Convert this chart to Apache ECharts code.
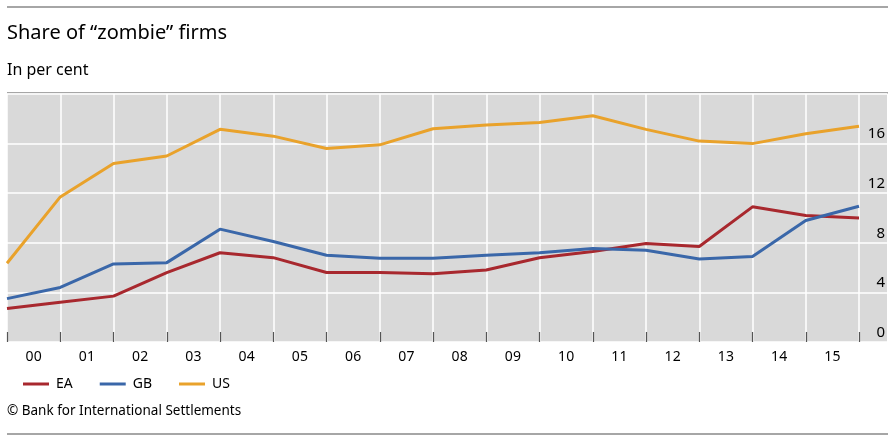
<!DOCTYPE html>
<html>
<head>
<meta charset="utf-8">
<script src="https://cdn.jsdelivr.net/npm/echarts@6/dist/echarts.min.js"></script>
<style>html,body{margin:0;padding:0;background:#fff;}#c{width:895px;height:442px;}</style>
</head>
<body>
<div id="c"></div>
<script>
const years = ['00','01','02','03','04','05','06','07','08','09','10','11','12','13','14','15'];
const EA = [2.7, 3.2, 3.7, 5.6, 7.2, 6.8, 5.6, 5.6, 5.5, 5.8, 6.8, 7.3, 7.95, 7.7, 10.9, 10.2, 10.0];
const GB = [3.5, 4.4, 6.3, 6.4, 9.1, 8.1, 7.0, 6.75, 6.75, 7.0, 7.2, 7.55, 7.4, 6.7, 6.9, 9.8, 10.95];
const US = [6.35, 11.7, 14.4, 15.0, 17.15, 16.6, 15.6, 15.9, 17.2, 17.5, 17.7, 18.25, 17.15, 16.2, 16.0, 16.8, 17.4];
const yTicks = [0, 4, 8, 12, 16];

const FONT = '"Noto Sans", "Open Sans", sans-serif';
const chart = echarts.init(document.getElementById('c'));
const toPts = a => a.map((v, i) => [i, v]);

chart.setOption({
  animation: false,
  textStyle: { fontFamily: FONT },
  grid: [
    { left: 7, right: 8, top: 94, bottom: 100, show: true, backgroundColor: '#d9d9d9', borderWidth: 0 },
    { left: 7, right: 36, top: 94, bottom: 100 }
  ],
  xAxis: [
    { gridIndex: 0, type: 'value', show: false, min: 0, max: 1 },
    { gridIndex: 1, type: 'category', data: years, boundaryGap: true,
      axisLine: { show: false },
      axisTick: { show: true, inside: true, length: 10, interval: 0, lineStyle: { color: '#555', width: 1.2 } },
      axisLabel: { interval: 0, color: '#000', fontSize: 14, margin: 8, fontFamily: FONT },
      splitLine: { show: true, interval: 0, lineStyle: { color: '#ffffff', width: 1.5 } }
    },
    { gridIndex: 1, type: 'value', show: false, min: 0, max: years.length }
  ],
  yAxis: [
    { gridIndex: 0, type: 'value', min: 0, max: 20, interval: 4, position: 'right',
      axisLine: { show: false }, axisTick: { show: false },
      axisLabel: { inside: true, margin: 2, color: '#000', fontSize: 15, verticalAlign: 'bottom', padding: [0, 0, 2, 0], fontFamily: FONT,
        formatter: v => yTicks.indexOf(v) >= 0 ? String(v) : '' },
      splitLine: { show: true, lineStyle: { color: '#ffffff', width: 1.5 } }
    },
    { gridIndex: 1, type: 'value', min: 0, max: 20, interval: 4, show: false, splitLine: { show: false } }
  ],
  legend: {
    left: 18, top: 372, icon: 'rect', itemWidth: 26, itemHeight: 3, itemGap: 27,
    textStyle: { color: '#000', fontSize: 14, fontFamily: FONT, padding: [0, 0, 0, 2] },
    data: ['EA', 'GB', 'US']
  },
  graphic: [
    { type: 'rect', shape: { x: 7, y: 6, width: 881, height: 2 }, style: { fill: '#a6a6a6' }, silent: true },
    { type: 'rect', shape: { x: 7, y: 92, width: 881, height: 1.5 }, style: { fill: '#a6a6a6' }, silent: true },
    { type: 'rect', shape: { x: 7, y: 433, width: 881, height: 2 }, style: { fill: '#a6a6a6' }, silent: true },
    { type: 'text', left: 7, top: 23, style: { text: 'Share of “zombie” firms', fontSize: 20, fill: '#000', fontFamily: FONT } },
    { type: 'text', left: 7, top: 62, style: { text: 'In per cent', fontSize: 16, fill: '#000', fontFamily: FONT } },
    { type: 'text', left: 7, top: 404, style: { text: '© Bank for International Settlements', fontSize: 13.5, fill: '#000', fontFamily: FONT } }
  ],
  series: [
    { name: 'EA', type: 'line', xAxisIndex: 2, yAxisIndex: 1, data: toPts(EA), symbol: 'none', color: '#a8282e', lineStyle: { width: 3, color: '#a8282e' } },
    { name: 'GB', type: 'line', xAxisIndex: 2, yAxisIndex: 1, data: toPts(GB), symbol: 'none', color: '#3a67a9', lineStyle: { width: 3, color: '#3a67a9' } },
    { name: 'US', type: 'line', xAxisIndex: 2, yAxisIndex: 1, data: toPts(US), symbol: 'none', color: '#e9a22b', lineStyle: { width: 3, color: '#e9a22b' } }
  ]
});
</script>
</body>
</html>
